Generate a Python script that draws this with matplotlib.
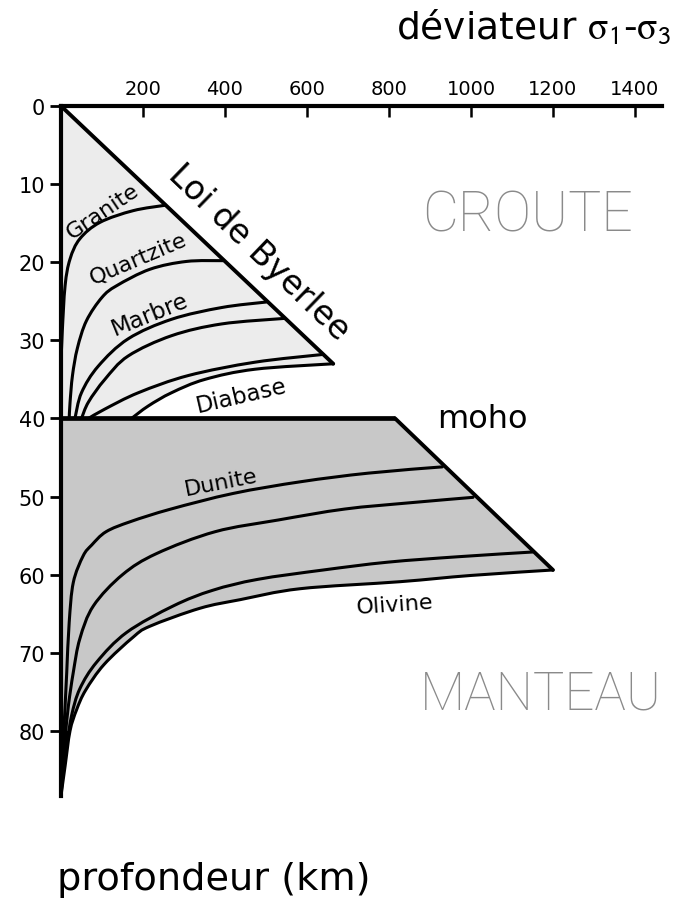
import matplotlib
matplotlib.use("Agg")
import matplotlib.pyplot as plt
from matplotlib.path import Path
from matplotlib.patches import PathPatch

plt.rcParams['font.family'] = ['DejaVu Sans']
plt.rcParams['mathtext.fontset'] = 'stix'

# axes ticks
x_ticks = [200, 400, 600, 800, 1000, 1200, 1400]
y_ticks = [0, 10, 20, 30, 40, 50, 60, 70, 80]

# croute : loi de Byerlee et courbes de fluage
byerlee_x = [0, 664]
byerlee_y = [0, 33]
granite_x = [255, 176, 95, 46, 22, 10, 3, 0]
granite_y = [12.7, 13.4, 14.9, 17, 19.6, 23, 29, 33]
quartzite_x = [395, 306, 217, 136, 100, 62, 40, 28, 22, 20]
quartzite_y = [19.8, 19.9, 20.9, 23, 24.5, 27.5, 31, 34.5, 38, 40]
marbre_x = [500, 392, 270, 164, 91, 50, 34]
marbre_y = [25.1, 25.8, 27.3, 29.8, 33.3, 36.7, 40]
marbre2_x = [543, 392, 270, 164, 107, 67, 50]
marbre2_y = [27.2, 27.9, 29.4, 32, 35, 37.9, 40]
diabase2_x = [640, 473, 311, 189, 107, 67]
diabase2_y = [31.8, 32.8, 34.5, 36.7, 38.8, 40]
diabase_x = [664, 473, 351, 270, 213, 172]
diabase_y = [33, 33.7, 35, 36.7, 38.4, 40]

# moho + manteau
moho_x = [0, 815]
moho_y = [40, 40]
byerlee_m_x = [815, 1200]
byerlee_m_y = [40, 59.4]
dunite_x = [930, 750, 585, 420, 268, 170, 110, 75, 54, 30, 20, 14, 10, 6, 3, 0]
dunite_y = [46.2, 47, 48.1, 49.6, 51.6, 53.2, 54.5, 56.2, 57.6, 61, 66.1, 72.5, 76.8, 81, 85, 88.3]
dunite2_x = [1005, 850, 692, 530, 376, 233, 150, 79, 46, 30, 18, 10, 4, 0]
dunite2_y = [50.1, 50.8, 51.6, 53, 54.5, 57.3, 60, 64, 68.2, 72.5, 76.8, 81, 85, 88.3]
olivine2_x = [1150, 970, 797, 640, 480, 370, 274, 160, 87, 46, 26, 14, 5, 0]
olivine2_y = [57.1, 57.7, 58.4, 59.4, 60.6, 62, 64, 67.4, 71.2, 74.6, 78, 81.9, 85.5, 88.3]
olivine_x = [1200, 1000, 827, 583, 437, 339, 217, 176, 105, 60, 38, 22, 10, 0]
olivine_y = [59.4, 60.1, 60.9, 61.8, 63.2, 64.3, 66.6, 68, 71.5, 74.8, 77.3, 80, 84.5, 88.3]


def smooth_segments(xs, ys):
    # courbe de Bezier (Catmull-Rom) passant par les points lus
    pts = list(zip(xs, ys))
    verts, codes = [], []
    for i in range(len(pts) - 1):
        p0 = pts[i - 1] if i > 0 else pts[i]
        p1, p2 = pts[i], pts[i + 1]
        p3 = pts[i + 2] if i + 2 < len(pts) else p2
        c1 = (p1[0] + (p2[0] - p0[0]) / 6, p1[1] + (p2[1] - p0[1]) / 6)
        c2 = (p2[0] - (p3[0] - p1[0]) / 6, p2[1] - (p3[1] - p1[1]) / 6)
        verts += [c1, c2, p2]
        codes += [Path.CURVE4] * 3
    return verts, codes


def smooth_path(xs, ys):
    v, c = smooth_segments(xs, ys)
    return Path([(xs[0], ys[0])] + v, [Path.MOVETO] + c)


fig = plt.figure(figsize=(6.73, 9.03), dpi=100)
ax = fig.add_axes([61/673, 1 - 810/903, (662 - 61)/673, (810 - 107)/903])
ax.set_xlim(0, 1466)
ax.set_ylim(90, 0)

# remplissage croute
v, c = smooth_segments(diabase_x, diabase_y)
crust = Path([(byerlee_x[0], byerlee_y[0]), (byerlee_x[1], byerlee_y[1])] + v + [(moho_x[0], moho_y[0]), (0, 0)],
             [Path.MOVETO, Path.LINETO] + c + [Path.LINETO, Path.CLOSEPOLY])
ax.add_patch(PathPatch(crust, facecolor='#ececec', lw=0, zorder=1))

# remplissage manteau
v, c = smooth_segments(olivine_x, olivine_y)
mantle = Path([(moho_x[0], moho_y[0]), (moho_x[1], moho_y[1]), (olivine_x[0], olivine_y[0])] + v + [(0, 0)],
              [Path.MOVETO, Path.LINETO, Path.LINETO] + c + [Path.CLOSEPOLY])
ax.add_patch(PathPatch(mantle, facecolor='#c8c8c8', lw=0, zorder=1))

# pointe noire en bas
tip_x = [0] + [x for x, y in zip(olivine_x, olivine_y) if y >= 80]
tip_y = [80] + [y for y in olivine_y if y >= 80]
ax.fill(tip_x, tip_y, color='black', lw=0, zorder=2)

for xs, ys in [(granite_x, granite_y), (quartzite_x, quartzite_y), (marbre_x, marbre_y),
               (marbre2_x, marbre2_y), (diabase2_x, diabase2_y), (diabase_x, diabase_y),
               (dunite_x, dunite_y), (dunite2_x, dunite2_y), (olivine2_x, olivine2_y),
               (olivine_x, olivine_y)]:
    ax.add_patch(PathPatch(smooth_path(xs, ys), facecolor='none', edgecolor='black',
                           lw=2.2, capstyle='round', joinstyle='round', zorder=3))

ax.plot(byerlee_x, byerlee_y, color='black', lw=2.8, solid_capstyle='round', zorder=4)
ax.plot(moho_x, moho_y, color='black', lw=3.4, solid_capstyle='butt', zorder=4)
ax.plot(byerlee_m_x, byerlee_m_y, color='black', lw=2.8, solid_capstyle='round', zorder=4)

# axes
for s in ['right', 'bottom']:
    ax.spines[s].set_visible(False)
ax.spines['top'].set_linewidth(3)
ax.spines['left'].set_linewidth(3)
ax.spines['left'].set_bounds(0, 88.3)
ax.xaxis.tick_top()
ax.set_xticks(x_ticks)
ax.set_xticklabels([str(v) for v in x_ticks])
ax.set_yticks(y_ticks)
ax.set_yticklabels([str(v) for v in y_ticks])
ax.tick_params(axis='x', direction='in', length=8, width=1.8, pad=6, labelsize=14)
ax.tick_params(axis='y', direction='out', length=8, width=2, pad=3.5, labelsize=15)
ax.set_facecolor('none')

# étiquettes des courbes
lab = dict(ha='center', va='center', rotation_mode='anchor', color='black', zorder=5)
ax.text(101, 13.4, 'Granite', rotation=34, fontsize=16, **lab)
ax.text(189, 19.4, 'Quartzite', rotation=23, fontsize=16, **lab)
ax.text(217, 26.6, 'Marbre', rotation=22, fontsize=16.5, **lab)
ax.text(441, 37.0, 'Diabase', rotation=13, fontsize=16.5, **lab)
ax.text(483, 18.6, 'Loi de Byerlee', rotation=-44, fontsize=24, **lab)
ax.text(390, 48.1, 'Dunite', rotation=11, fontsize=16, **lab)
ax.text(815, 63.8, 'Olivine', rotation=4, fontsize=16, **lab)
ax.text(917, 41.1, 'moho', ha='left', va='baseline', fontsize=23)

ax.text(1137, 14.0, 'CROUTE', ha='center', va='center', fontsize=40,
        family='Roboto', fontweight='light', color='#8a8a8a', clip_on=False)
ax.text(1171, 75.3, 'MANTEAU', ha='center', va='center', fontsize=38,
        family='Roboto', fontweight='light', color='#8a8a8a', clip_on=False)

fig.text(672/673, 1 - 39/903, r'déviateur $\mathrm{\sigma}_{\mathsf{1}}$-$\mathrm{\sigma}_{\mathsf{3}}$',
         ha='right', va='baseline', fontsize=27)
fig.text(57/673, 1 - 890/903, 'profondeur (km)', ha='left', va='baseline', fontsize=27.5)

fig.savefig('out.png', dpi=100)
